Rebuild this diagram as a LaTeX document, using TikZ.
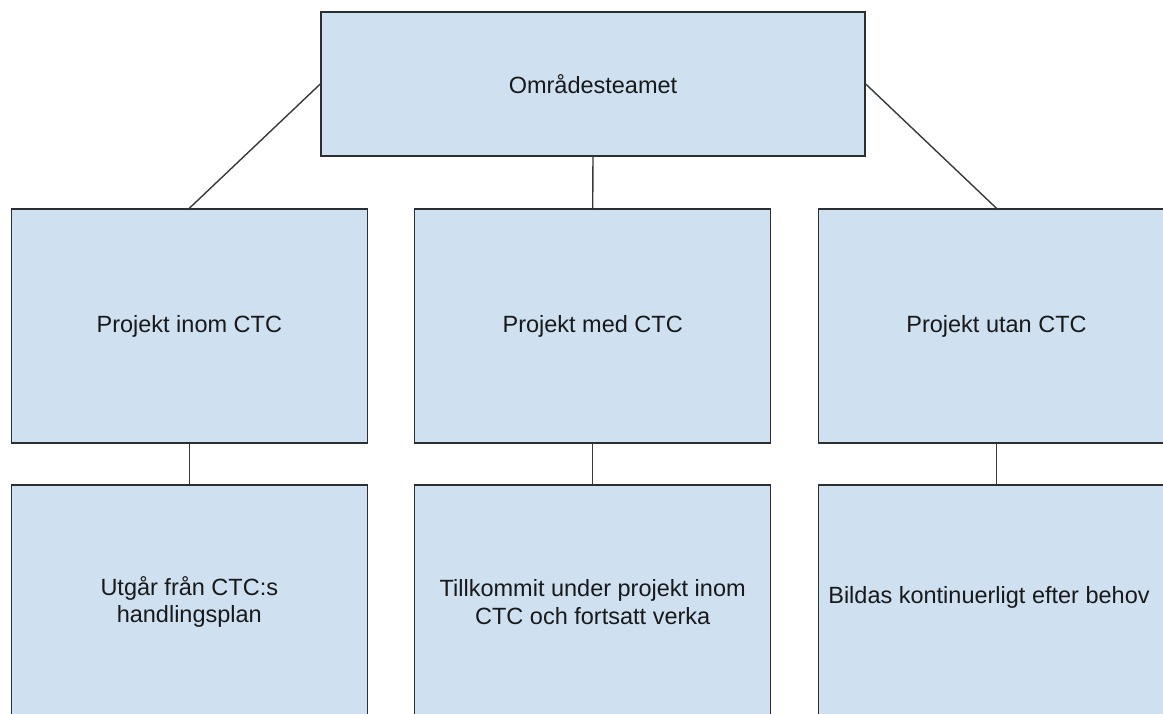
\documentclass[tikz,border=0pt]{standalone}
\usepackage{fontspec}
\setmainfont{Liberation Sans}
\definecolor{boxfill}{HTML}{CFE0F1}
\definecolor{boxline}{HTML}{2B2F33}
\definecolor{linkc}{HTML}{3A3A3A}
\begin{document}
\begin{tikzpicture}[x=1pt,y=-1pt,
  orgbox/.style={draw=boxline,fill=boxfill,line width=1.4pt,inner sep=0pt,
    minimum width=356pt,minimum height=234pt,align=center,
    font=\fontsize{23.5}{27.5}\selectfont,text=black!90},
  link/.style={draw=linkc,line width=1.4pt}]
\useasboundingbox (0,0) rectangle (1163,713);
\clip (0,0) rectangle (1163,713);
\fill[white] (0,0) rectangle (1163,713);
\node[orgbox,minimum width=544pt,minimum height=144pt] (top) at (593,84) {Områdesteamet};
\node[orgbox] (l1) at (189.3,326) {Projekt inom CTC};
\node[orgbox] (m1) at (592.7,326) {Projekt med CTC};
\node[orgbox] (r1) at (996.5,326) {Projekt utan CTC};
\node[orgbox] (l2) at (189.3,602) {Utgår från CTC:s\\handlingsplan};
\node[orgbox] (m2) at (592.7,602) {Tillkommit under projekt inom\\CTC och fortsatt verka};
\node[orgbox] (r2) at (996.5,602) {};
\node[font=\fontsize{23.5}{27.5}\selectfont,text=black!90,inner sep=0pt] (r2t) at (989,597) {Bildas kontinuerligt efter behov};
\draw[link] (top.west) -- (l1.north);
\draw[link] (top.south) -- (m1.north);
\draw[link] (top.east) -- (r1.north);
\draw[link] (l1.south) -- (l2.north);
\draw[link] (m1.south) -- (m2.north);
\draw[link] (r1.south) -- (r2.north);
\end{tikzpicture}
\end{document}
